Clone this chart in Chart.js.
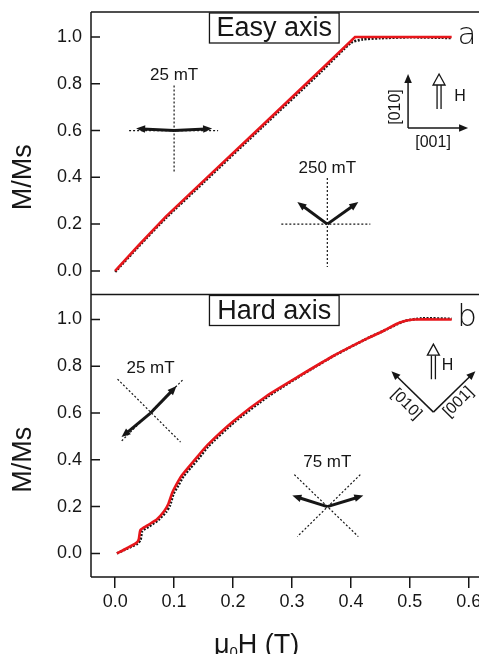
<!DOCTYPE html>
<html>
<head>
<meta charset="utf-8">
<script src="https://cdn.jsdelivr.net/npm/chart.js@4.4.0/dist/chart.umd.min.js"></script>
<style>
  html,body{margin:0;padding:0;background:#fff;overflow:hidden}
  #wrap{width:500px;height:654px}
</style>
</head>
<body>
<div id="wrap"><canvas id="chart" width="500" height="654"></canvas></div>
<script>
// applied field mu0H (T) vs reduced magnetisation M/Ms
const easyFieldFit = [0.0, 0.04, 0.086, 0.15, 0.25, 0.35, 0.407, 0.45, 0.571];
const easyFit      = [0.0, 0.11, 0.232, 0.385, 0.623, 0.862, 1.0, 1.0, 1.0];
const easyField    = [0.0, 0.04, 0.086, 0.15, 0.25, 0.35, 0.40, 0.42, 0.45, 0.50, 0.571];
const easyData     = [-0.004, 0.105, 0.226, 0.378, 0.616, 0.853, 0.975, 0.99, 0.995, 0.999, 0.996];

const hardFieldFit = [0.003, 0.02, 0.036, 0.040, 0.043, 0.055, 0.071, 0.083, 0.090, 0.097, 0.104, 0.113, 0.125, 0.140, 0.156, 0.201, 0.257, 0.314, 0.370, 0.427, 0.455, 0.483, 0.506, 0.571];
const hardFit      = [0.0, 0.022, 0.045, 0.06, 0.10, 0.12, 0.146, 0.18, 0.21, 0.26, 0.295, 0.333, 0.37, 0.415, 0.462, 0.566, 0.673, 0.761, 0.844, 0.918, 0.951, 0.987, 1.0, 1.0];
const hardField    = [0.003, 0.02, 0.038, 0.043, 0.046, 0.058, 0.073, 0.086, 0.093, 0.099, 0.107, 0.116, 0.128, 0.143, 0.158, 0.203, 0.26, 0.316, 0.372, 0.43, 0.46, 0.49, 0.52, 0.571];
const hardData     = [0.0, 0.02, 0.042, 0.058, 0.095, 0.116, 0.142, 0.176, 0.205, 0.255, 0.29, 0.33, 0.366, 0.41, 0.458, 0.563, 0.672, 0.762, 0.846, 0.922, 0.957, 0.993, 1.005, 1.003];

const xTicks = [0, 0.1, 0.2, 0.3, 0.4, 0.5, 0.6];
const yTicks = [0, 0.2, 0.4, 0.6, 0.8, 1.0];
const panelTitles = ['Easy axis', 'Hard axis'];
const panelLetters = ['a', 'b'];
const fieldLabels = [['25 mT', '250 mT'], ['25 mT', '75 mT']];

const INK = '#161616';
const RED = '#e8161b';
const SANS = '"Liberation Sans", Arial, sans-serif';

const pts = (xs, ys) => xs.map((x, i) => ({x, y: ys[i]}));

function dotted(ctx, x1, y1, x2, y2) {
  ctx.save();
  ctx.setLineDash([2, 2]); ctx.lineWidth = 1.2; ctx.strokeStyle = INK;
  ctx.beginPath(); ctx.moveTo(x1, y1); ctx.lineTo(x2, y2); ctx.stroke();
  ctx.restore();
}
function arrow(ctx, x1, y1, x2, y2, w, head) {
  const a = Math.atan2(y2 - y1, x2 - x1), c = Math.cos(a), s = Math.sin(a);
  ctx.save();
  ctx.strokeStyle = ctx.fillStyle = INK; ctx.lineWidth = w;
  ctx.beginPath(); ctx.moveTo(x1, y1); ctx.lineTo(x2 - c * head * 0.7, y2 - s * head * 0.7); ctx.stroke();
  ctx.beginPath();
  ctx.moveTo(x2, y2);
  ctx.lineTo(x2 - head * c + head * 0.42 * s, y2 - head * s - head * 0.42 * c);
  ctx.lineTo(x2 - head * c - head * 0.42 * s, y2 - head * s + head * 0.42 * c);
  ctx.closePath(); ctx.fill();
  ctx.restore();
}
function hollowArrow(ctx, x, yBase, yTip) {
  const hh = 11, hw = 6;
  ctx.save();
  ctx.strokeStyle = INK; ctx.fillStyle = '#fff'; ctx.lineWidth = 1.3;
  ctx.beginPath();
  ctx.moveTo(x - 2, yBase); ctx.lineTo(x - 2, yTip + hh);
  ctx.moveTo(x + 2, yBase); ctx.lineTo(x + 2, yTip + hh);
  ctx.stroke();
  ctx.beginPath(); ctx.moveTo(x, yTip); ctx.lineTo(x - hw, yTip + hh); ctx.lineTo(x + hw, yTip + hh); ctx.closePath();
  ctx.fill(); ctx.stroke();
  ctx.restore();
}
function text(ctx, str, x, y, font, rot) {
  ctx.save();
  ctx.translate(x, y); if (rot) ctx.rotate(rot);
  ctx.font = font; ctx.fillStyle = INK; ctx.textAlign = 'center'; ctx.textBaseline = 'middle';
  ctx.fillText(str, 0, 0);
  ctx.restore();
}

const decor = {
  id: 'decor',
  afterDraw(chart) {
    const {ctx, chartArea: ca, scales: {x, yA, yB}} = chart;
    const panels = [yA, yB];

    // frame + inward y ticks
    ctx.save();
    ctx.strokeStyle = INK; ctx.lineWidth = 1.5;
    ctx.beginPath();
    ctx.moveTo(ca.left, ca.top); ctx.lineTo(ca.left, ca.bottom);
    [yA.top, yB.top, yB.bottom].forEach(y => { ctx.moveTo(ca.left, y); ctx.lineTo(ca.right + 2, y); });
    panels.forEach(s => yTicks.forEach(v => {
      const p = s.getPixelForValue(v);
      ctx.moveTo(ca.left, p); ctx.lineTo(ca.left + 9, p);
    }));
    ctx.stroke();
    ctx.restore();

    panels.forEach((s, i) => {
      // y title
      text(ctx, 'M/Ms', 24, s.getPixelForValue(0.4), '27px ' + SANS, -Math.PI / 2);
      // title box
      const bx1 = x.getPixelForValue(0.16), bx2 = x.getPixelForValue(0.38);
      const by1 = s.top + 1, by2 = s.top + 31;
      ctx.save(); ctx.strokeStyle = INK; ctx.lineWidth = 1.3;
      ctx.strokeRect(bx1, by1, bx2 - bx1, by2 - by1); ctx.restore();
      text(ctx, panelTitles[i], (bx1 + bx2) / 2, (by1 + by2) / 2 + 1, '27px ' + SANS);
      // panel letter
      text(ctx, panelLetters[i], x.getPixelForValue(0.597), s.getPixelForValue(1.0) - (i ? 2 : 1), '200 31px "DejaVu Sans", sans-serif');
    });

    // easy axis insets
    let cx = x.getPixelForValue(0.1), cy = yA.getPixelForValue(0.6);
    dotted(ctx, cx, cy - 45, cx, cy + 43);
    dotted(ctx, cx - 45, cy, cx + 44, cy);
    arrow(ctx, cx, cy, cx - 38, cy - 2, 3, 9);
    arrow(ctx, cx, cy, cx + 38, cy - 2, 3, 9);
    text(ctx, fieldLabels[0][0], cx, cy - 55, '17px ' + SANS);

    cx = x.getPixelForValue(0.36); cy = yA.getPixelForValue(0.2);
    dotted(ctx, cx, cy - 46, cx, cy + 43);
    dotted(ctx, cx - 46, cy, cx + 43, cy);
    arrow(ctx, cx, cy, cx - 30, cy - 22, 3, 9);
    arrow(ctx, cx, cy, cx + 31, cy - 22, 3, 9);
    text(ctx, fieldLabels[0][1], cx, cy - 56, '17px ' + SANS);

    cx = x.getPixelForValue(0.497); cy = yA.getPixelForValue(0.611);
    arrow(ctx, cx, cy, cx, cy - 54, 1.5, 9);
    arrow(ctx, cx, cy, cx + 60, cy, 1.5, 9);
    text(ctx, '[010]', cx - 12, cy - 21, '16px ' + SANS, -Math.PI / 2);
    text(ctx, '[001]', cx + 25, cy + 15, '16px ' + SANS);
    hollowArrow(ctx, cx + 31, cy - 19, cy - 54);
    text(ctx, 'H', cx + 52, cy - 31, '16px ' + SANS);

    // hard axis insets
    cx = x.getPixelForValue(0.06); cy = yB.getPixelForValue(0.6);
    dotted(ctx, cx - 33, cy - 34, cx + 30, cy + 29);
    dotted(ctx, cx + 32, cy - 33, cx - 30, cy + 29);
    arrow(ctx, cx, cy, cx + 26, cy - 27, 3, 9);
    arrow(ctx, cx, cy, cx - 29, cy + 24, 3, 9);
    text(ctx, fieldLabels[1][0], cx, cy - 45, '17px ' + SANS);

    cx = x.getPixelForValue(0.36); cy = yB.getPixelForValue(0.2);
    dotted(ctx, cx - 33, cy - 32, cx + 31, cy + 30);
    dotted(ctx, cx + 33, cy - 32, cx - 30, cy + 30);
    arrow(ctx, cx, cy, cx - 35, cy - 11, 3, 9);
    arrow(ctx, cx, cy, cx + 36, cy - 11, 3, 9);
    text(ctx, fieldLabels[1][1], cx, cy - 44, '17px ' + SANS);

    cx = x.getPixelForValue(0.54); cy = yB.getPixelForValue(0.604);
    arrow(ctx, cx, cy, cx - 42, cy - 41, 1.5, 9);
    arrow(ctx, cx, cy, cx + 42, cy - 41, 1.5, 9);
    text(ctx, '[010]', cx - 27, cy - 8, '16px ' + SANS, Math.PI / 4);
    text(ctx, '[001]', cx + 25, cy - 10, '16px ' + SANS, -Math.PI / 4);
    hollowArrow(ctx, cx, cy - 33, cy - 68);
    text(ctx, 'H', cx + 14, cy - 47, '16px ' + SANS);

    // x title: mu_0 H (T)
    ctx.save();
    ctx.fillStyle = INK; ctx.textBaseline = 'alphabetic'; ctx.textAlign = 'left';
    const big = '27px ' + SANS, small = '15px ' + SANS;
    ctx.font = big; const wMu = ctx.measureText('\u03bc').width, wRest = ctx.measureText('H (T)').width;
    ctx.font = small; const wSub = ctx.measureText('0').width;
    let tx = x.getPixelForValue(0.24) - (wMu + wSub + wRest) / 2;
    const base = 653;
    ctx.font = big; ctx.fillText('\u03bc', tx, base); tx += wMu;
    ctx.font = small; ctx.fillText('0', tx, base + 4); tx += wSub;
    ctx.font = big; ctx.fillText('H (T)', tx, base);
    ctx.restore();
  }
};

const yScale = {
  type: 'linear', position: 'left', stack: 'panels', stackWeight: 1,
  min: -0.101, max: 1.107,
  afterBuildTicks: s => { s.ticks = yTicks.map(v => ({value: v})); },
  afterFit: s => { s.width = 91; s.paddingTop = 0; s.paddingBottom = 0; },
  grid: {display: false, drawTicks: false},
  border: {display: false},
  ticks: {color: INK, padding: 9, font: {family: SANS, size: 18}, callback: v => v.toFixed(1)}
};

new Chart(document.getElementById('chart'), {
  type: 'line',
  data: {
    datasets: [
      {label: 'easy fit', yAxisID: 'yA', data: pts(easyFieldFit, easyFit), borderColor: RED, borderWidth: 2.6, pointRadius: 0, tension: 0},
      {label: 'hard fit', yAxisID: 'yB', data: pts(hardFieldFit, hardFit), borderColor: RED, borderWidth: 2.6, pointRadius: 0, tension: 0.2},
      {label: 'easy data', yAxisID: 'yA', data: pts(easyField, easyData), borderColor: INK, borderWidth: 2.6, borderDash: [2, 1.5], pointRadius: 0, tension: 0.2},
      {label: 'hard data', yAxisID: 'yB', data: pts(hardField, hardData), borderColor: INK, borderWidth: 2.6, borderDash: [2, 1.5], pointRadius: 0, tension: 0.2}
    ]
  },
  options: {
    responsive: false, animation: false, devicePixelRatio: 1,
    layout: {padding: {top: 12, left: 0, right: 0, bottom: 0}},
    plugins: {legend: {display: false}, tooltip: {enabled: false}},
    scales: {
      x: {
        type: 'linear', position: 'bottom', min: -0.041, max: 0.653,
        afterBuildTicks: s => { s.ticks = xTicks.map(v => ({value: v})); },
        afterFit: s => { s.height = 77; s.paddingLeft = 0; s.paddingRight = 0; },
        grid: {drawOnChartArea: false, drawTicks: true, tickLength: 11, color: INK, lineWidth: 1.5},
        border: {display: false},
        ticks: {color: INK, padding: 3, maxRotation: 0, font: {family: SANS, size: 18}, callback: v => v.toFixed(1)}
      },
      yB: yScale,
      yA: Object.assign({}, yScale)
    }
  },
  plugins: [decor]
});
</script>
</body>
</html>
